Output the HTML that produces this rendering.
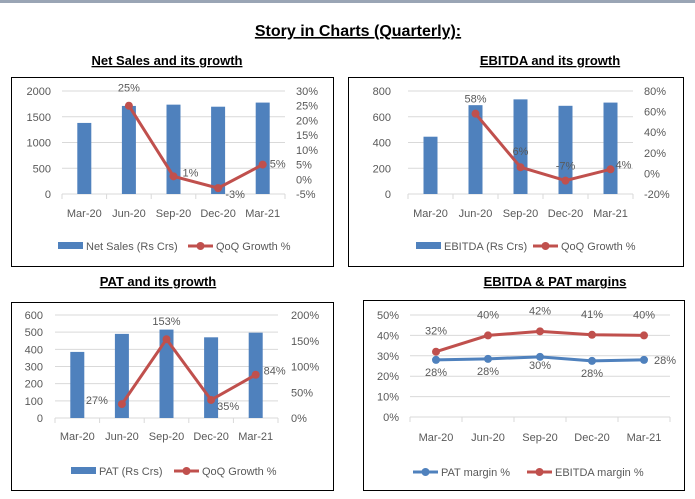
<!DOCTYPE html>
<html><head><meta charset="utf-8"><style>
body{margin:0;background:#fff;}
svg{display:block;font-family:"Liberation Sans",Calibri,sans-serif;}
.t{fill:#595959;font-size:11px;}
</style></head><body>
<svg id="s" width="695" height="499" xmlns="http://www.w3.org/2000/svg">
<rect x="0" y="0" width="695" height="3" fill="#9aa5b5"/>
<text x="358" y="36" text-anchor="middle" font-size="16" font-weight="bold" text-decoration="underline">Story in Charts (Quarterly):</text>
</svg>
<script>
const categories=["Mar-20","Jun-20","Sep-20","Dec-20","Mar-21"];
const salesValues=[1380,1710,1735,1695,1775];
const salesGrowth=[null,25,1,-3,5];
const ebitdaValues=[445,690,735,685,710];
const ebitdaGrowth=[null,58,6,-7,4];
const patValues=[385,490,515,470,497];
const patGrowth=[null,27,153,35,84];
const patMargin=[28,28.5,29.5,27.5,28];
const ebitdaMargin=[32,40,42,40.3,40];
const patMarginLabels=["28%","28%","30%","28%","28%"];
const ebitdaMarginLabels=["32%","40%","42%","41%","40%"];
const salesTicks=[0,500,1000,1500,2000];
const salesPctTicks=[-5,0,5,10,15,20,25,30];
const ebitdaTicks=[0,200,400,600,800];
const ebitdaPctTicks=[-20,0,20,40,60,80];
const patTicks=[0,100,200,300,400,500,600];
const patPctTicks=[0,50,100,150,200];
const marginTicks=[0,10,20,30,40,50];

const S=document.getElementById('s');
const NS="http://www.w3.org/2000/svg";
function mk(tag,attrs,parent,txt){const e=document.createElementNS(NS,tag);for(const k in attrs)e.setAttribute(k,attrs[k]);if(txt!==undefined)e.textContent=txt;(parent||S).appendChild(e);return e;}

function frame(box,title,tx,ty,name){
  const g=mk('g',{});
  
  
  const t=mk('text',{x:tx,y:ty,'text-anchor':'middle','font-size':13,'font-weight':'bold','text-decoration':'underline'},g,title);
  
  
  const r=mk('rect',{x:box[0]+.5,y:box[1]+.5,width:box[2],height:box[3],fill:'none',stroke:'#000','stroke-width':1},g);
  
  
  return g;
}
function axes(g,x0,x1,yTop,yBot,ticks,fmt,lx,name){
  const min=ticks[0],max=ticks[ticks.length-1];
  const ys=v=>yBot-(v-min)/(max-min)*(yBot-yTop);
  ticks.forEach(v=>{
    const l=mk('line',{x1:x0,x2:x1,y1:ys(v),y2:ys(v),stroke:'#d9d9d9'},g);
    
    
    const t=mk('text',{x:lx,y:ys(v)+4,'text-anchor':'end',class:'t'},g,fmt(v));
    
    
  });
  return ys;
}
function xaxis(g,x0,x1,yAxis,ly){
  const step=(x1-x0)/categories.length;
  const xs=i=>x0+step*(i+.5);
  mk('line',{x1:x0,x2:x1,y1:yAxis,y2:yAxis,stroke:'#d9d9d9'},g);
  for(let i=0;i<=categories.length;i++)mk('line',{x1:x0+step*i,x2:x0+step*i,y1:yAxis,y2:yAxis+5,stroke:'#d9d9d9'},g);
  categories.forEach((c,i)=>{
    const t=mk('text',{x:xs(i),y:ly,'text-anchor':'middle',class:'t'},g,c);
    
    
  });
  return xs;
}
function rightAxis(g,ticks,yTop,yBot,rx,name){
  const min=ticks[0],max=ticks[ticks.length-1];
  const ys=v=>yBot-(v-min)/(max-min)*(yBot-yTop);
  ticks.forEach(v=>{
    const t=mk('text',{x:rx,y:ys(v)+4,class:'t'},g,v+'%');
    
    
  });
  return ys;
}
function line(g,vals,xs,ys,color,name){
  const pts=[];vals.forEach((v,i)=>{if(v!==null)pts.push([xs(i),ys(v)]);});
  const p=mk('polyline',{points:pts.map(p=>p.join(',')).join(' '),fill:'none',stroke:color,'stroke-width':3},g);
  
  
  pts.forEach(q=>{const c=mk('circle',{cx:q[0],cy:q[1],r:4,fill:color},g);
    
    });
}
function label(g,x,y,txt){const t=mk('text',{x:x,y:y,class:'t','text-anchor':'middle'},g,txt);
  
  }
function legend(g,y,items){
  items.forEach(it=>{
    const lg=mk('g',{},g);
    
    
    if(it.type==='bar')mk('rect',{x:it.x,y:y-4,width:25,height:7,fill:'#4f81bd'},lg);
    else{mk('line',{x1:it.x,x2:it.x+25,y1:y,y2:y,stroke:it.color,'stroke-width':3},lg);mk('circle',{cx:it.x+12.5,cy:y,r:4,fill:it.color},lg);}
    mk('text',{x:it.x+28,y:y+4,class:'t'},lg,it.text);
  });
}
const BLUE='#4f81bd',RED='#c0504d';
function bars(g,vals,xs,ys,name){
  vals.forEach((v,i)=>{const r=mk('rect',{x:xs(i)-7,y:ys(v),width:14,height:ys(0)-ys(v),fill:BLUE},g);
    
    });
}

// Chart 1
(function(){
  const g=frame([11,77,322,189],'Net Sales and its growth',167,65,'net-sales-chart');
  const ys=axes(g,62,285,91,194,salesTicks,v=>v,51,'sales');
  const xs=xaxis(g,62,285,194,217);
  bars(g,salesValues,xs,ys,'net-sales');
  const yr=rightAxis(g,salesPctTicks,91,194,296,'sales');
  line(g,salesGrowth,xs,yr,RED,'sales-growth');
  const dx=[0,0,17,17,15],dy=[0,-14,0,10,3];
  salesGrowth.forEach((v,i)=>{if(v!==null)label(g,xs(i)+dx[i],yr(v)+dy[i],v+'%');});
  legend(g,246,[{type:'bar',x:58,text:'Net Sales (Rs Crs)'},{type:'line',x:188,color:RED,text:'QoQ Growth %'}]);
})();
// Chart 2
(function(){
  const g=frame([348,77,335,189],'EBITDA and its growth',550,65,'ebitda-chart');
  const ys=axes(g,408,633,91,194,ebitdaTicks,v=>v,391,'ebitda');
  const xs=xaxis(g,408,633,194,217);
  bars(g,ebitdaValues,xs,ys,'ebitda');
  const yr=rightAxis(g,ebitdaPctTicks,91,194,644,'ebitda');
  line(g,ebitdaGrowth,xs,yr,RED,'ebitda-growth');
  const dx=[0,0,0,0,13],dy=[0,-11,-12,-11,-1];
  ebitdaGrowth.forEach((v,i)=>{if(v!==null)label(g,xs(i)+dx[i],yr(v)+dy[i],v+'%');});
  legend(g,246,[{type:'bar',x:416,text:'EBITDA (Rs Crs)'},{type:'line',x:533,color:RED,text:'QoQ Growth %'}]);
})();
// Chart 3
(function(){
  const g=frame([11,302,322,188],'PAT and its growth',158,286,'pat-chart');
  const ys=axes(g,55,278,315,418,patTicks,v=>v,43,'pat');
  const xs=xaxis(g,55,278,418,440);
  bars(g,patValues,xs,ys,'pat');
  const yr=rightAxis(g,patPctTicks,315,418,291,'pat');
  line(g,patGrowth,xs,yr,RED,'pat-growth');
  const dx=[0,-25,0,17,19],dy=[0,0,-14,10,0];
  patGrowth.forEach((v,i)=>{if(v!==null)label(g,xs(i)+dx[i],yr(v)+dy[i],v+'%');});
  legend(g,471,[{type:'bar',x:71,text:'PAT (Rs Crs)'},{type:'line',x:174,color:RED,text:'QoQ Growth %'}]);
})();
// Chart 4
(function(){
  const g=frame([363,300,321,190],'EBITDA & PAT margins',555,286,'margins-chart');
  const ys=axes(g,410,670,315,417,marginTicks,v=>v+'%',399,'margin');
  const xs=xaxis(g,410,670,417,441);
  line(g,patMargin,xs,ys,BLUE,'pat-margin');
  line(g,ebitdaMargin,xs,ys,RED,'ebitda-margin');
  const pdy=[16,16,12,16,4],pdx=[0,0,0,0,21];
  patMargin.forEach((v,i)=>label(g,xs(i)+pdx[i],ys(v)+pdy[i],patMarginLabels[i]));
  ebitdaMargin.forEach((v,i)=>label(g,xs(i),ys(v)-17,ebitdaMarginLabels[i]));
  legend(g,472,[{type:'line',x:413,color:BLUE,text:'PAT margin %'},{type:'line',x:527,color:RED,text:'EBITDA margin %'}]);
})();
</script>
</body></html>
